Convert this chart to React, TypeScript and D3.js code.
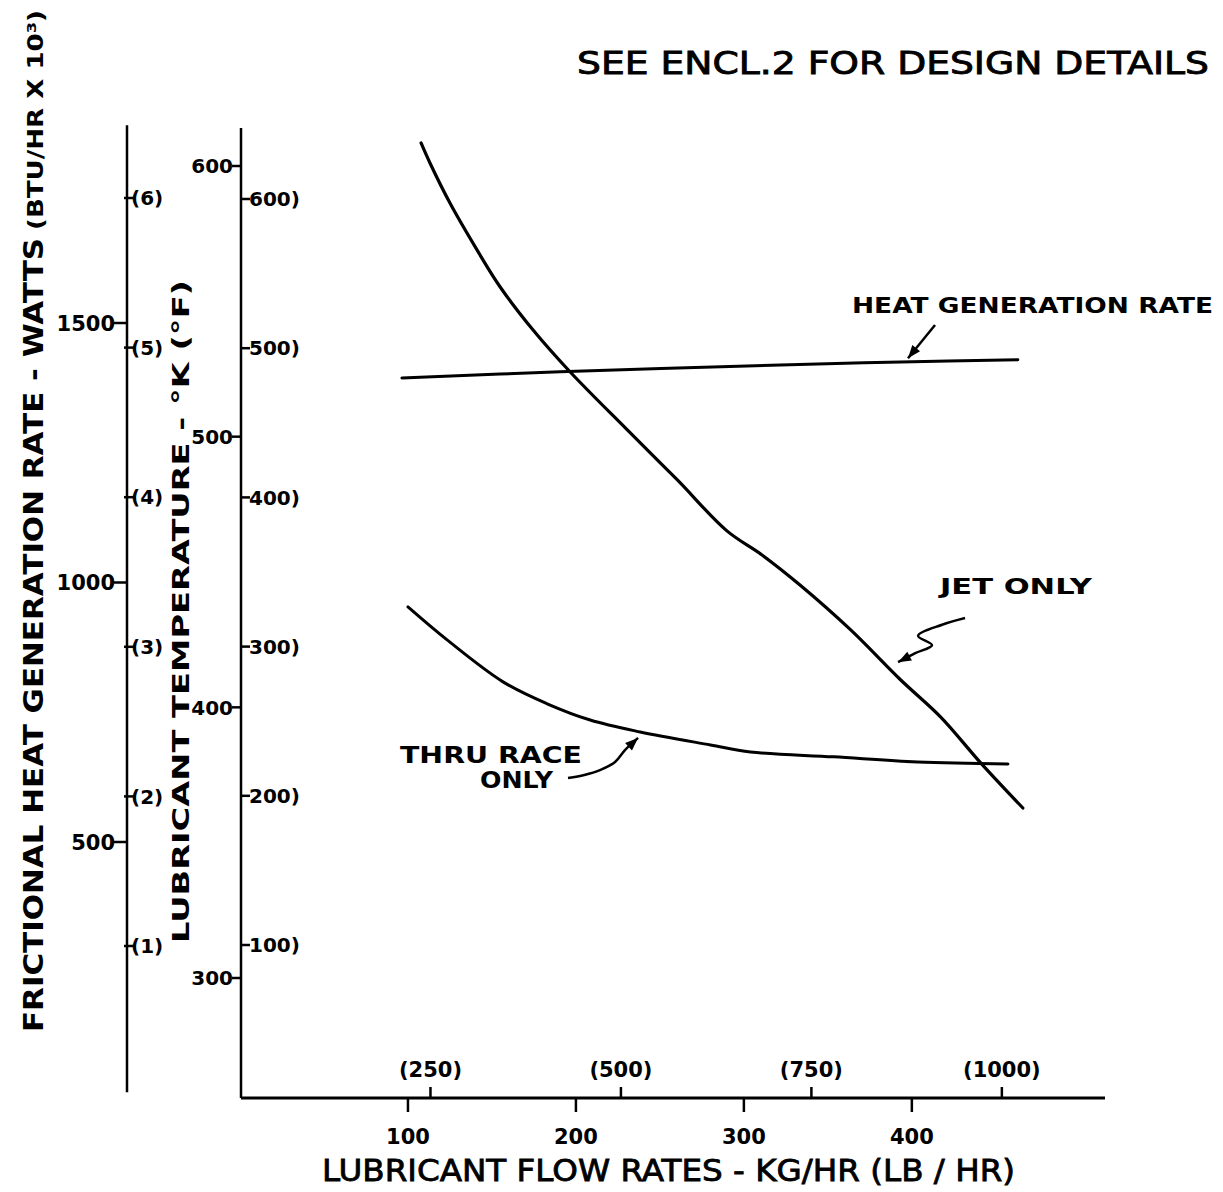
import React from "react";
import * as d3 from "d3";

// ---- data ----
// Jet only: [flow kg/hr, temperature K]
const jetFlow = [107.8, 113.1, 125.0, 141.1, 154.9, 174.5, 196.6, 230.6, 260.4, 289.9, 310.8, 333.4, 363.6, 393.4, 417.2, 441.1, 466.1];
const jetTemp = [608.5, 601.1, 586.3, 569.0, 555.3, 539.4, 523.9, 502.5, 484.0, 465.2, 456.3, 445.2, 428.6, 410.1, 396.4, 379.4, 362.8];
// Thru race only
const raceFlow = [100.0, 123.3, 156.6, 182.9, 208.5, 238.3, 280.1, 303.9, 353.4, 403.5, 457.2];
const raceTemp = [437.1, 424.9, 409.4, 401.3, 395.3, 390.9, 386.1, 383.5, 381.7, 379.8, 379.1];
// Heat generation rate: [flow kg/hr, watts]
const heatFlow = [96.4, 190.6, 321.8, 393.4, 463.1];
const heatWatts = [1394, 1406, 1419, 1425, 1429];

// tick values
const wattTicks = [500, 1000, 1500];
const btuTicks = [1, 2, 3, 4, 5, 6];
const kelvinTicks = [300, 400, 500, 600];
const fahrTicks = [100, 200, 300, 400, 500, 600];
const kgTicks = [100, 200, 300, 400];
const lbTicks = [250, 500, 750, 1000];

// annotation leaders (data space)
const heatArrow = [[413.8, 1496], [397.7, 1432]];
const jetArrow = [[431.7, 433.0], [418, 430.5], [403.7, 426.4], [412.0, 423.0], [402, 420], [391.8, 416.7]];
const raceArrow = [[195.3, 373.9], [205, 375], [214.3, 376.8], [223.3, 379.8], [229.2, 384.2], [237.0, 388.7]];

const W = 1223;
const H = 1192;

// scales
const x = d3.scaleLinear().domain([0, 515]).range([240, 1105]);
const yK = d3.scaleLinear().domain([300, 600]).range([978, 166]);
const yF = d3.scaleLinear().domain([100, 600]).range([945, 199]);
const yW = d3.scaleLinear().domain([500, 1500]).range([842, 323]);
const yBtu = d3.scaleLinear().domain([1, 6]).range([946, 198]);
const LB_PER_KG = 2.20462;

const AX1 = 127; // watts axis x
const AX2 = 241; // temperature axis x
const XAXIS_Y = 1098;

const numFont = "'DejaVu Sans', 'Liberation Sans', sans-serif";

function arrowHead(p0: number[], p1: number[], size = 13, width = 5) {
  const dx = p1[0] - p0[0];
  const dy = p1[1] - p0[1];
  const len = Math.hypot(dx, dy) || 1;
  const ux = dx / len, uy = dy / len;
  const bx = p1[0] - ux * size, by = p1[1] - uy * size;
  return `M${p1[0]},${p1[1]} L${bx - uy * width},${by + ux * width} L${bx + uy * width},${by - ux * width} Z`;
}

export default function App() {
  const tempLine = d3
    .line<[number, number]>()
    .x((d) => x(d[0]))
    .y((d) => yK(d[1]))
    .curve(d3.curveCatmullRom.alpha(0.5));
  const wattLine = d3
    .line<[number, number]>()
    .x((d) => x(d[0]))
    .y((d) => yW(d[1]))
    .curve(d3.curveCatmullRom.alpha(0.5));

  const jet: [number, number][] = jetFlow.map((f, i) => [f, jetTemp[i]]);
  const race: [number, number][] = raceFlow.map((f, i) => [f, raceTemp[i]]);
  const heat: [number, number][] = heatFlow.map((f, i) => [f, heatWatts[i]]);

  const heatArrowPx = heatArrow.map((d) => [x(d[0]), yW(d[1])]);
  const jetArrowPx = jetArrow.map((d) => [x(d[0]), yK(d[1])]);
  const raceArrowPx = raceArrow.map((d) => [x(d[0]), yK(d[1])]);
  const leader = d3.line().curve(d3.curveCatmullRom);

  return (
    <svg
      width={W}
      height={H}
      viewBox={`0 0 ${W} ${H}`}
      style={{ position: "absolute", left: 0, top: 0, background: "#fff" }}
    >
      <rect x={0} y={0} width={W} height={H} fill="#fff" />

      {/* top note */}
      <text x={577} y={74} fontFamily={numFont} fontSize={32} textLength={632} lengthAdjust="spacingAndGlyphs" fill="#000" stroke="#000" strokeWidth={0.9}>
        SEE  ENCL.2 FOR DESIGN  DETAILS
      </text>

      {/* left watts axis */}
      <line x1={AX1} x2={AX1} y1={yW(1881)} y2={yW(18)} stroke="#000" strokeWidth={2.5} />
      {wattTicks.map((t) => (
        <g key={"w" + t}>
          <line x1={AX1 - 13} x2={AX1} y1={yW(t)} y2={yW(t)} stroke="#000" strokeWidth={2.5} />
          <text x={AX1 - 12} y={yW(t)} dy="0.36em" textAnchor="end" fontFamily={numFont} fontWeight="bold" fontSize={21} fill="#000">
            {t}
          </text>
        </g>
      ))}
      {btuTicks.map((t) => (
        <g key={"b" + t}>
          <line x1={AX1 - 3} x2={AX1 + 7} y1={yBtu(t)} y2={yBtu(t)} stroke="#000" strokeWidth={2.5} />
          <text x={AX1 + 4} y={yBtu(t)} dy="0.36em" fontFamily={numFont} fontWeight="bold" fontSize={20} fill="#000">
            ({t})
          </text>
        </g>
      ))}

      {/* temperature axis */}
      <line x1={AX2} x2={AX2} y1={yK(614)} y2={XAXIS_Y} stroke="#000" strokeWidth={2.5} />
      {kelvinTicks.map((t) => (
        <g key={"k" + t}>
          <line x1={AX2 - 9} x2={AX2} y1={yK(t)} y2={yK(t)} stroke="#000" strokeWidth={2.5} />
          <text x={AX2 - 8} y={yK(t)} dy="0.36em" textAnchor="end" fontFamily={numFont} fontWeight="bold" fontSize={20} fill="#000">
            {t}
          </text>
        </g>
      ))}
      {fahrTicks.map((t) => (
        <g key={"f" + t}>
          <line x1={AX2} x2={AX2 + 9} y1={yF(t)} y2={yF(t)} stroke="#000" strokeWidth={2.5} />
          <text x={AX2 + 8} y={yF(t)} dy="0.36em" fontFamily={numFont} fontWeight="bold" fontSize={20} fill="#000">
            {t})
          </text>
        </g>
      ))}

      {/* x axis */}
      <line x1={AX2} x2={x(515)} y1={XAXIS_Y} y2={XAXIS_Y} stroke="#000" strokeWidth={3} />
      {kgTicks.map((t) => (
        <g key={"kg" + t}>
          <line x1={x(t)} x2={x(t)} y1={XAXIS_Y} y2={XAXIS_Y + 14} stroke="#000" strokeWidth={2.5} />
          <text x={x(t)} y={XAXIS_Y + 46} textAnchor="middle" fontFamily={numFont} fontWeight="bold" fontSize={21} fill="#000">
            {t}
          </text>
        </g>
      ))}
      {lbTicks.map((t) => (
        <g key={"lb" + t}>
          <line x1={x(t / LB_PER_KG)} x2={x(t / LB_PER_KG)} y1={XAXIS_Y} y2={XAXIS_Y - 11} stroke="#000" strokeWidth={2.5} />
          <text x={x(t / LB_PER_KG)} y={XAXIS_Y - 21} textAnchor="middle" fontFamily={numFont} fontWeight="bold" fontSize={21} fill="#000">
            ({t})
          </text>
        </g>
      ))}

      {/* axis titles */}
      <text x={0} y={0} transform="translate(43,1032) rotate(-90)" fontFamily={numFont} fontWeight="bold" fontSize={27} textLength={794} lengthAdjust="spacingAndGlyphs" fill="#000">
        FRICTIONAL HEAT GENERATION RATE - WATTS
      </text>
      <text x={0} y={0} transform="translate(43,230) rotate(-90)" fontFamily={numFont} fontWeight="bold" fontSize={22} textLength={220} lengthAdjust="spacingAndGlyphs" fill="#000">
        (BTU/HR X 10³)
      </text>
      <text x={0} y={0} transform="translate(189,943) rotate(-90)" fontFamily={numFont} fontWeight="bold" fontSize={23} textLength={663} lengthAdjust="spacingAndGlyphs" fill="#000">
        LUBRICANT   TEMPERATURE - °K   (°F)
      </text>
      <text x={322} y={1181} fontFamily={numFont} fontSize={30} textLength={693} lengthAdjust="spacingAndGlyphs" fill="#000" stroke="#000" strokeWidth={0.8}>
        LUBRICANT FLOW RATES - KG/HR (LB / HR)
      </text>

      {/* curves */}
      <path d={wattLine(heat) || ""} fill="none" stroke="#000" strokeWidth={3} strokeLinecap="round" />
      <path d={tempLine(jet) || ""} fill="none" stroke="#000" strokeWidth={3.2} strokeLinecap="round" />
      <path d={tempLine(race) || ""} fill="none" stroke="#000" strokeWidth={3} strokeLinecap="round" />

      {/* annotations */}
      <text x={852} y={313} fontFamily={numFont} fontWeight="bold" fontSize={22} textLength={361} lengthAdjust="spacingAndGlyphs" fill="#000">
        HEAT GENERATION RATE
      </text>
      <path d={leader(heatArrowPx as [number, number][]) || ""} fill="none" stroke="#000" strokeWidth={2.5} />
      <path d={arrowHead(heatArrowPx[0], heatArrowPx[1])} fill="#000" />

      <text x={940} y={594} fontFamily={numFont} fontWeight="bold" fontSize={22} textLength={152} lengthAdjust="spacingAndGlyphs" fill="#000">
        JET ONLY
      </text>
      <path d={leader(jetArrowPx as [number, number][]) || ""} fill="none" stroke="#000" strokeWidth={2.5} />
      <path d={arrowHead(jetArrowPx[jetArrowPx.length - 2], jetArrowPx[jetArrowPx.length - 1])} fill="#000" />

      <text x={400} y={763} fontFamily={numFont} fontWeight="bold" fontSize={23} textLength={182} lengthAdjust="spacingAndGlyphs" fill="#000">
        THRU RACE
      </text>
      <text x={480} y={788} fontFamily={numFont} fontWeight="bold" fontSize={23} textLength={73} lengthAdjust="spacingAndGlyphs" fill="#000">
        ONLY
      </text>
      <path d={leader(raceArrowPx as [number, number][]) || ""} fill="none" stroke="#000" strokeWidth={2.5} />
      <path d={arrowHead(raceArrowPx[raceArrowPx.length - 2], raceArrowPx[raceArrowPx.length - 1])} fill="#000" />
    </svg>
  );
}
